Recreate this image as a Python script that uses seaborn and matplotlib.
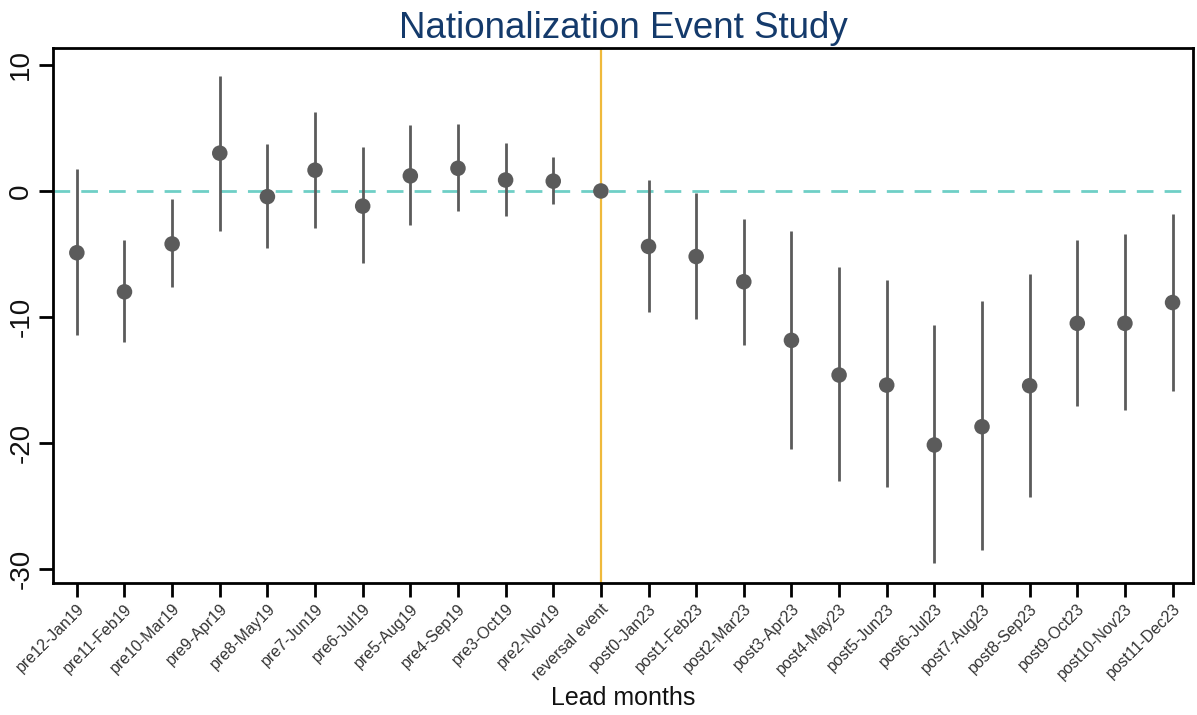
import numpy as np
import pandas as pd
import matplotlib
matplotlib.use("Agg")
import matplotlib.pyplot as plt
import seaborn as sns

labels = ["pre12-Jan19", "pre11-Feb19", "pre10-Mar19", "pre9-Apr19", "pre8-May19",
          "pre7-Jun19", "pre6-Jul19", "pre5-Aug19", "pre4-Sep19", "pre3-Oct19",
          "pre2-Nov19", "reversal event", "post0-Jan23", "post1-Feb23", "post2-Mar23",
          "post3-Apr23", "post4-May23", "post5-Jun23", "post6-Jul23", "post7-Aug23",
          "post8-Sep23", "post9-Oct23", "post10-Nov23", "post11-Dec23"]
estimate = [-4.9, -8.0, -4.2, 3.0, -0.45, 1.65, -1.2, 1.2, 1.8, 0.87, 0.78, 0.0,
            -4.4, -5.2, -7.2, -11.85, -14.6, -15.4, -20.15, -18.7, -15.45, -10.5, -10.5, -8.85]
ci_low = [-11.4, -12.0, -7.65, -3.15, -4.55, -2.95, -5.75, -2.7, -1.6, -1.95, -1.05, 0.0,
          -9.6, -10.15, -12.2, -20.45, -23.0, -23.5, -29.5, -28.5, -24.3, -17.05, -17.4, -15.85]
ci_high = [1.75, -3.9, -0.65, 9.15, 3.75, 6.3, 3.5, 5.2, 5.35, 3.8, 2.7, 0.0,
           0.85, -0.15, -2.2, -3.15, -6.05, -7.05, -10.65, -8.75, -6.55, -3.85, -3.4, -1.8]
yticks = [10, 0, -10, -20, -30]

df = pd.DataFrame({"pos": np.arange(len(labels)), "label": labels,
                   "est": estimate, "lo": ci_low, "hi": ci_high})

sns.set_theme(style="ticks")
plt.rcParams["font.family"] = ["Liberation Sans", "DejaVu Sans"]

fig = plt.figure(figsize=(11.97, 7.15), dpi=100)
ax = fig.add_axes([0.0443, 0.1846, 0.9524, 0.7484])

ax.axhline(0, color="#6fcfc6", lw=2, ls=(0, (6, 4)), zorder=1)
ax.axvline(labels.index("reversal event"), color="#efb93b", lw=1.6, zorder=1)
ax.vlines(df["pos"], df["lo"], df["hi"], color="#5b5b5b", lw=2, zorder=2)
sns.scatterplot(data=df, x="pos", y="est", ax=ax, color="#5b5b5b", s=125,
                edgecolor="none", zorder=3, legend=False)

ax.set_xlim(-0.5, 23.43)
ax.set_ylim(-31.1, 11.35)
ax.set_xticks(df["pos"])
ax.set_xticklabels(labels, rotation=45, ha="right", rotation_mode="anchor",
                   fontsize=11.5, color="#333333")
ax.set_yticks(yticks)
ax.set_yticklabels([str(v) for v in yticks], rotation=90, va="center", fontsize=20,
                   color="#111111")
ax.tick_params(axis="both", direction="out", length=10, width=2, color="black")
ax.tick_params(axis="x", pad=3)
for s in ax.spines.values():
    s.set_linewidth(2)
    s.set_color("black")

ax.set_xlabel("Lead months", fontsize=18, labelpad=2, color="#111111")
ax.set_ylabel("")
ax.set_title("Nationalization Event Study", fontsize=26.5, color="#143a6b", pad=7)

fig.savefig("out.png", dpi=100)
